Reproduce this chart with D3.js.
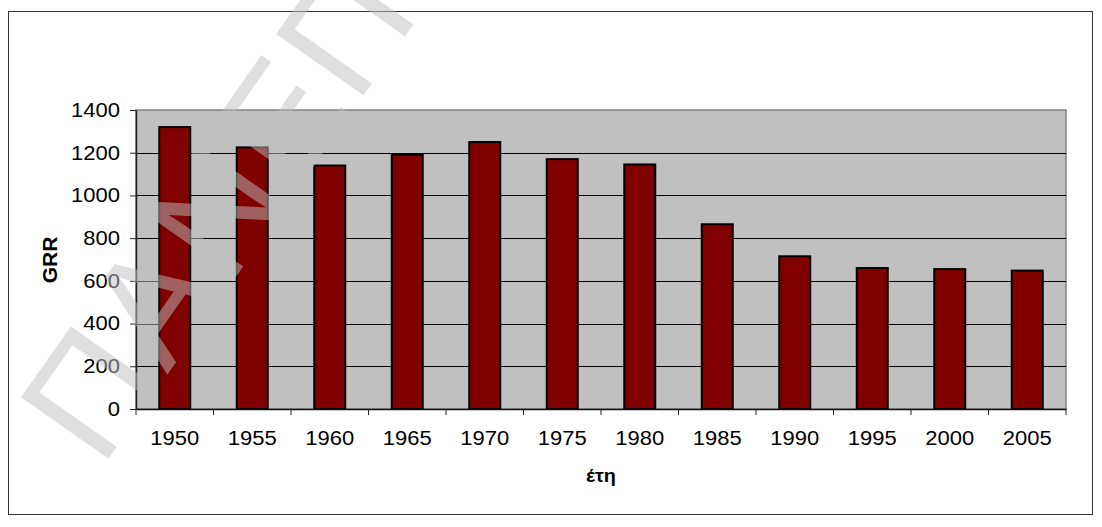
<!DOCTYPE html>
<html>
<head>
<meta charset="utf-8">
<script src="https://cdn.jsdelivr.net/npm/d3@7"></script>
<style>
  body { margin: 0; background: #fff; }
  svg { display: block; font-family: Arial, "Liberation Sans", sans-serif; }
</style>
</head>
<body>
<svg id="chart" width="1102" height="527"></svg>
<script>
// ---------- data ---------- //
var years = ["1950", "1955", "1960", "1965", "1970", "1975", "1980", "1985", "1990", "1995", "2000", "2005"];
var grr = [1320, 1225, 1140, 1190, 1250, 1170, 1145, 865, 715, 660, 655, 648];
var yTicks = [0, 200, 400, 600, 800, 1000, 1200, 1400];
var yTitle = "GRR";
var xTitle = "έτη";
var watermark = "ΠΑΝΕΠ";

var svg = d3.select("#chart");

// the source picture is a bit wider than tall, so text gets stretched sideways
var stretch = 1.1;
function widen(sel){
    sel.each(function(){
        var len = this.getComputedTextLength();
        d3.select(this)
            .attr("textLength", len * stretch)
            .attr("lengthAdjust", "spacingAndGlyphs");
    });
}

// outer chart frame
svg.append("rect")
    .attr("x", 8.5)
    .attr("y", 11.5)
    .attr("width", 1084)
    .attr("height", 503)
    .attr("fill", "#fff")
    .attr("stroke", "#333")
    .attr("stroke-width", 1);

var plotLeft = 136, plotRight = 1066, plotTop = 110, plotBottom = 409;

var x = d3.scaleBand()
    .domain(years)
    .range([plotLeft, plotRight]);

var y = d3.scaleLinear()
    .domain([0, 1400])
    .range([plotBottom, plotTop]);

// plot area
svg.append("rect")
    .attr("x", plotLeft)
    .attr("y", plotTop)
    .attr("width", plotRight - plotLeft)
    .attr("height", plotBottom - plotTop)
    .attr("fill", "#c0c0c0")
    .attr("stroke", "#808080")
    .attr("stroke-width", 1.5);

// gridlines
svg.append("g")
    .selectAll("line")
    .data(yTicks.filter(function(d){ return d > 0 && d < 1400; }))
    .enter().append("line")
    .attr("x1", plotLeft)
    .attr("x2", plotRight)
    .attr("y1", function(d){ return Math.round(y(d)) + 0.5; })
    .attr("y2", function(d){ return Math.round(y(d)) + 0.5; })
    .attr("stroke", "#000")
    .attr("stroke-width", 1);

// bars
svg.append("g")
    .selectAll("rect")
    .data(grr)
    .enter().append("rect")
    .attr("x", function(d, i){ return x(years[i]) + x.bandwidth() * 0.3; })
    .attr("width", x.bandwidth() * 0.4)
    .attr("y", function(d){ return y(d); })
    .attr("height", function(d){ return y(0) - y(d); })
    .attr("fill", "#800000")
    .attr("stroke", "#000")
    .attr("stroke-width", 2);

// y axis
var yAxis = svg.append("g")
    .attr("transform", "translate(" + plotLeft + ",0)")
    .call(d3.axisLeft(y).tickValues(yTicks).tickSize(6).tickSizeOuter(0).tickPadding(10).tickFormat(d3.format("d")));

yAxis.select(".domain").attr("stroke", "#222").attr("stroke-width", 1.5);
yAxis.selectAll(".tick line").attr("stroke", "#222");
yAxis.selectAll("text")
    .attr("font-size", 20)
    .attr("font-family", "Arial, 'Liberation Sans', sans-serif")
    .attr("fill", "#000")
    .call(widen);

// x axis
var xAxis = svg.append("g")
    .attr("transform", "translate(0," + plotBottom + ")")
    .call(d3.axisBottom(x).tickSize(0).tickPadding(22));

xAxis.select(".domain").attr("stroke", "#111").attr("stroke-width", 1.5);
xAxis.selectAll("text")
    .attr("font-size", 20)
    .attr("font-family", "Arial, 'Liberation Sans', sans-serif")
    .attr("fill", "#000")
    .call(widen);

// category boundary ticks
var bounds = years.map(function(d){ return x(d); }).concat([plotRight]);
xAxis.selectAll("line.bound")
    .data(bounds)
    .enter().append("line")
    .attr("class", "bound")
    .attr("x1", function(d){ return d; })
    .attr("x2", function(d){ return d; })
    .attr("y1", 0)
    .attr("y2", 6)
    .attr("stroke", "#222")
    .attr("stroke-width", 1);

// axis titles
svg.append("text")
    .attr("transform", "translate(57,260) rotate(-90)")
    .attr("text-anchor", "middle")
    .attr("font-size", 21)
    .attr("font-weight", "bold")
    .text(yTitle);

svg.append("text")
    .attr("x", 601)
    .attr("y", 482)
    .attr("text-anchor", "middle")
    .attr("font-size", 18)
    .attr("font-weight", "bold")
    .text(xTitle)
    .call(widen);

// watermark over everything
svg.append("g")
    .attr("opacity", 0.5)
    .append("text")
    .attr("transform", "translate(101,469) rotate(-54.9)")
    .attr("font-size", 155)
    .attr("font-family", "'Liberation Sans', Arial, sans-serif")
    .attr("letter-spacing", 3.3)
    .attr("fill", "#c0c0c0")
    .text(watermark);
</script>
</body>
</html>
